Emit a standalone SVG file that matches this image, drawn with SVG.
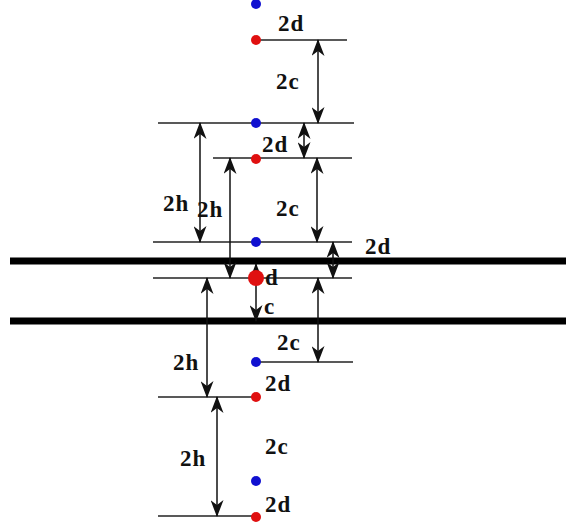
<svg xmlns="http://www.w3.org/2000/svg" width="566" height="529" viewBox="0 0 566 529">
<style>
.t{font-family:"Liberation Serif","Times New Roman",serif;font-weight:bold;font-size:23px;letter-spacing:1px;fill:#111}
.l{stroke:#222;stroke-width:1.3;fill:none}
.a{stroke:#111;stroke-width:1.5;fill:none;marker-start:url(#ah);marker-end:url(#ah)}
.ae{stroke:#111;stroke-width:1.5;fill:none;marker-end:url(#ah)}
.w{stroke:#000;stroke-width:7}
.b{fill:#1010d0}
.r{fill:#e01010}
</style>
<defs>
<marker id="ah" viewBox="0 0 17 13" refX="16" refY="6.5" markerWidth="17" markerHeight="13" markerUnits="userSpaceOnUse" orient="auto-start-reverse">
<path d="M0,0 L17,6.5 L0,13 L5,6.5 z" fill="#111"/>
</marker>
</defs>
<rect width="566" height="529" fill="#fff"/>
<g id="walls">
<line class="w" x1="10" y1="261" x2="566" y2="261"/>
<line class="w" x1="10" y1="321" x2="566" y2="321"/>
</g>
<g id="levels">
<line class="l" x1="256" y1="40" x2="347" y2="40"/>
<line class="l" x1="158" y1="123" x2="354" y2="123"/>
<line class="l" x1="213" y1="158" x2="352" y2="158"/>
<line class="l" x1="153" y1="242" x2="352" y2="242"/>
<line class="l" x1="153" y1="278" x2="352" y2="278"/>
<line class="l" x1="256" y1="362" x2="353" y2="362"/>
<line class="l" x1="158" y1="397" x2="256" y2="397"/>
<line class="l" x1="158" y1="516" x2="256" y2="516"/>
</g>
<g id="connectors">
<line class="a" x1="318" y1="40" x2="318" y2="123"/>
<line class="a" x1="304" y1="123" x2="304" y2="158"/>
<line class="a" x1="200" y1="123" x2="200" y2="242"/>
<line class="a" x1="230" y1="158" x2="230" y2="278"/>
<line class="a" x1="317" y1="158" x2="317" y2="242"/>
<line class="a" x1="333" y1="242" x2="333" y2="278"/>
<line class="ae" x1="256" y1="278" x2="256" y2="264"/>
<line class="ae" x1="256" y1="278" x2="256" y2="321"/>
<line class="a" x1="207" y1="278" x2="207" y2="397"/>
<line class="a" x1="318" y1="278" x2="318" y2="362"/>
<line class="a" x1="217" y1="397" x2="217" y2="516"/>
</g>
<g id="charges">
<circle class="b" cx="256" cy="4" r="5"/>
<circle class="r" cx="256" cy="40" r="5"/>
<circle class="b" cx="256" cy="123" r="5"/>
<circle class="r" cx="256" cy="159" r="5"/>
<circle class="b" cx="256" cy="242" r="5"/>
<circle class="r" cx="256" cy="278" r="8"/>
<circle class="b" cx="256" cy="362" r="5"/>
<circle class="r" cx="256" cy="397" r="5"/>
<circle class="b" cx="256" cy="481" r="5"/>
<circle class="r" cx="256" cy="517" r="5"/>
</g>
<g id="labels">
<text class="t" x="278" y="31">2d</text>
<text class="t" x="276" y="89">2c</text>
<text class="t" x="262" y="152">2d</text>
<text class="t" x="163" y="211">2h</text>
<text class="t" x="197" y="217">2h</text>
<text class="t" x="276" y="216">2c</text>
<text class="t" x="365" y="254">2d</text>
<text class="t" x="265" y="285">d</text>
<text class="t" x="264" y="314">c</text>
<text class="t" x="277" y="350">2c</text>
<text class="t" x="173" y="370">2h</text>
<text class="t" x="265" y="391">2d</text>
<text class="t" x="265" y="454">2c</text>
<text class="t" x="180" y="466">2h</text>
<text class="t" x="265" y="512">2d</text>
</g>
</svg>
